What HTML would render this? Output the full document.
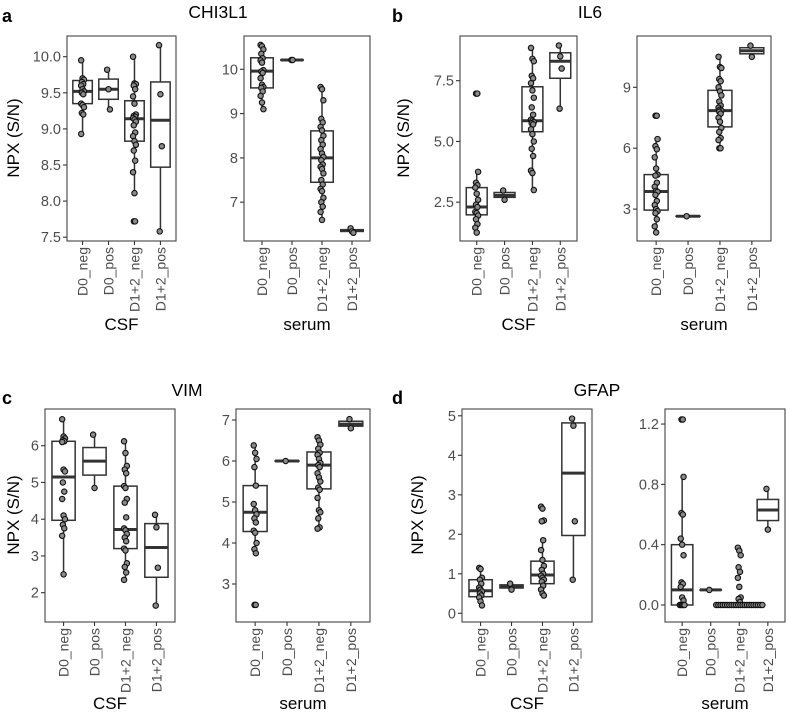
<!DOCTYPE html>
<html><head><meta charset="utf-8"><style>
body{margin:0;background:#fff;}
svg{display:block;font-family:"Liberation Sans",sans-serif;}
</style></head><body>
<svg id="fig" width="787" height="717" viewBox="0 0 787 717"></svg>
<script>
const categories=["D0_neg","D0_pos","D1+2_neg","D1+2_pos"];
// box stats per panel: [q1, median, q3, whiskerLow, whiskerHigh] per category
const aCsfBox=[[9.35,9.52,9.67,8.93,9.95],[9.41,9.55,9.69,9.27,9.82],[8.83,9.14,9.39,8.11,10.0],[8.47,9.12,9.65,7.58,10.16]];
const aCsfPts=[[9.95,9.7,9.68,9.65,9.62,9.6,9.55,9.52,9.5,9.48,9.35,9.33,9.3,9.22,9.2,8.93],[9.82,9.55,9.27],[10.0,9.63,9.62,9.6,9.55,9.45,9.35,9.2,9.18,9.17,9.15,9.13,9.1,9.05,8.95,8.9,8.83,8.78,8.7,8.56,8.4,8.11,7.72,7.72],[10.16,9.48,8.76,7.58]];
const aSerBox=[[9.58,9.96,10.26,9.11,10.55],[10.21,10.21,10.21,10.2,10.21],[7.45,8.0,8.61,6.6,9.6],[6.34,6.36,6.38,6.31,6.41]];
const aSerPts=[[10.55,10.52,10.45,10.35,10.25,10.2,10.15,9.98,9.95,9.92,9.8,9.65,9.6,9.58,9.5,9.4,9.25,9.1],[10.21,10.21],[9.6,9.55,9.3,8.88,8.8,8.7,8.62,8.5,8.4,8.3,8.2,8.1,8.02,7.95,7.85,7.8,7.75,7.65,7.5,7.4,7.3,7.25,7.1,7.0,6.9,6.78,6.6],[6.41,6.34,6.31]];
const bCsfBox=[[1.98,2.3,3.1,1.25,3.75],[2.7,2.78,2.9,2.6,2.98],[5.4,5.85,7.25,3.0,8.85],[7.6,8.3,8.65,6.35,8.95]];
const bCsfPts=[[6.97,6.97,3.75,3.3,3.2,3.1,2.85,2.6,2.4,2.3,2.1,2.05,1.95,1.8,1.6,1.45,1.25],[2.98,2.6],[8.85,8.4,8.3,7.7,7.6,7.4,7.1,6.8,6.4,6.1,5.9,5.85,5.8,5.75,5.7,5.5,5.3,5.0,4.7,4.4,3.8,3.7,3.0],[8.95,8.5,8.0,6.35]];
const bSerBox=[[2.95,3.87,4.7,1.8,6.45],[2.65,2.65,2.65,2.65,2.65],[7.05,7.85,8.85,6.0,10.5],[10.65,10.8,10.95,10.5,11.05]];
const bSerPts=[[7.6,7.6,6.45,6.1,5.95,5.55,5.0,4.7,4.65,4.3,4.1,3.9,3.85,3.7,3.4,3.2,3.0,2.9,2.8,2.5,2.15,1.85],[2.65],[10.5,10.0,9.95,9.4,9.3,9.0,8.8,8.6,8.3,8.1,8.0,7.9,7.85,7.8,7.7,7.5,7.3,7.0,6.8,6.5,6.4,6.0,6.0],[11.05,10.5]];
const cCsfBox=[[3.97,5.15,6.12,2.5,6.72],[5.2,5.58,5.95,4.85,6.3],[3.2,3.72,4.9,2.35,6.12],[2.42,3.23,3.88,1.65,4.12]];
const cCsfPts=[[6.72,6.25,6.2,6.15,6.12,6.1,5.35,5.3,5.0,4.75,4.55,4.1,4.0,3.85,3.75,3.55,2.5],[6.3,4.85],[6.12,5.8,5.45,5.35,5.25,4.9,4.85,4.55,4.45,4.05,3.75,3.7,3.6,3.5,3.4,3.2,3.15,2.8,2.7,2.55,2.35],[4.12,3.78,2.68,1.65]];
const cSerBox=[[4.28,4.75,5.4,3.75,6.38],[6.0,6.0,6.0,6.0,6.0],[5.32,5.9,6.22,4.35,6.58],[6.85,6.9,6.97,6.8,7.02]];
const cSerPts=[[6.38,6.2,6.05,5.85,5.4,4.95,4.8,4.7,4.6,4.5,4.3,4.25,4.0,3.85,3.75,2.49,2.49],[6.0],[6.58,6.5,6.4,6.3,6.2,6.15,6.05,5.95,5.9,5.85,5.7,5.6,5.5,5.35,5.3,5.1,4.8,4.75,4.6,4.38,4.35],[7.02,6.8]];
const dCsfBox=[[0.42,0.57,0.85,0.2,1.15],[0.64,0.68,0.72,0.6,0.75],[0.75,0.97,1.32,0.45,1.85],[1.97,3.55,4.82,0.85,4.93]];
const dCsfPts=[[1.15,1.12,0.9,0.85,0.75,0.65,0.6,0.55,0.5,0.45,0.4,0.3,0.2],[0.75,0.6],[2.7,2.65,2.35,2.33,1.85,1.6,1.35,1.2,1.1,1.0,0.95,0.9,0.85,0.8,0.7,0.6,0.5,0.45],[4.93,4.75,2.33,0.85]];
const dSerBox=[[0.0,0.1,0.4,0.0,0.85],[0.1,0.1,0.1,0.1,0.1],[0,0,0,0,0],[0.56,0.63,0.7,0.5,0.77]];
const dSerPts=[[1.23,1.23,0.85,0.61,0.6,0.44,0.4,0.33,0.15,0.14,0.12,0.05,0.03,0,0,0,0,0],[0.1],[0.38,0.36,0.33,0.25,0.22,0.18,0.12,0.05,0.04,0.02,0,0,0,0,0,0,0,0,0,0,0,0,0,0,0,0,0,0,0,0,0,0],[0.77,0.5]];
const aCsfTicks=[7.5,8.0,8.5,9.0,9.5,10.0], aSerTicks=[7,8,9,10];
const bCsfTicks=[2.5,5.0,7.5], bSerTicks=[3,6,9];
const cCsfTicks=[2,3,4,5,6], cSerTicks=[3,4,5,6,7];
const dCsfTicks=[0,1,2,3,4,5], dSerTicks=[0.0,0.4,0.8,1.2];

const NS="http://www.w3.org/2000/svg", svg=document.getElementById('fig');
function mk(tag,attrs,parent,txt){const e=document.createElementNS(NS,tag);for(const k in attrs)e.setAttribute(k,attrs[k]);if(txt!==undefined)e.textContent=txt;(parent||svg).appendChild(e);return e;}

function panel(name,L,R,T,B,vTop,vBot,box,pts,ticks,dec,facet){
  const g=mk('g',{},svg);
  
  
  const y=v=>T+(vTop-v)/(vTop-vBot)*(B-T);
  const unit=(R-L)/4.2;
  const x=i=>L+unit*(0.6+i);
  mk('rect',{x:L,y:T,width:R-L,height:B-T,fill:'#fff',stroke:'#444',"stroke-width":1.1},g);
  ticks.forEach(t=>{
    const ty=y(t);
    mk('line',{x1:L-4,x2:L,y1:ty,y2:ty,stroke:'#333',"stroke-width":1.1},g);
    const lb=mk('text',{x:L-6,y:ty+5,"text-anchor":"end","font-size":14.5,fill:'#4d4d4d'},g,t.toFixed(dec));
    
    
  });
  categories.forEach((c,i)=>{
    const cx=x(i);
    mk('line',{x1:cx,x2:cx,y1:B,y2:B+4,stroke:'#333',"stroke-width":1.1},g);
    const lb=mk('text',{transform:`translate(${cx+5},${B+6}) rotate(-90)`,"text-anchor":"end","font-size":14,fill:'#4d4d4d'},g,c);
    
    
    const s=box[i], hw=unit*0.375;
    const bg=mk('g',{},g);
    
    
    mk('line',{x1:cx,x2:cx,y1:y(s[4]),y2:y(s[2]),stroke:'#333',"stroke-width":1.5},bg);
    mk('line',{x1:cx,x2:cx,y1:y(s[0]),y2:y(s[3]),stroke:'#333',"stroke-width":1.5},bg);
    mk('rect',{x:cx-hw,y:y(s[2]),width:2*hw,height:Math.max(0.1,y(s[0])-y(s[2])),fill:'#fff',stroke:'#333',"stroke-width":1.5},bg);
    mk('line',{x1:cx-hw,x2:cx+hw,y1:y(s[1]),y2:y(s[1]),stroke:'#333',"stroke-width":3},bg);
    const counts={}, seen={};
    pts[i].forEach(v=>{counts[v]=(counts[v]||0)+1;});
    pts[i].forEach((v,j)=>{
      const n=counts[v], k=(seen[v]=(seen[v]||0)+1)-1;
      let dx = n>1 ? (k-(n-1)/2)*(n>6?2.2:1.2) : ((j*7)%5-2)*0.7;
      const p=mk('circle',{cx:cx+dx,cy:y(v),r:2.7,fill:'#8a8a8a',stroke:'#111',"stroke-width":1.1},bg);
      
      
    });
  });
  const ft=mk('text',{x:(L+R)/2,y:facet.y,"text-anchor":"middle","font-size":17,fill:'#000'},g,facet.t);
  
  
}
function txt(name,x,y,s,size,extra){const t=mk('text',Object.assign({x:x,y:y,"font-size":size,fill:'#000'},extra||{}),svg,s);
  
  }

panel('panel-a-csf',67,176,36,241,10.0+(56.7-36)/72.2,10.0-(241-56.7)/72.2,aCsfBox,aCsfPts,aCsfTicks,1,{t:'CSF',y:330});
panel('panel-a-serum',244,370,36,241,10+(69.3-36)/44.3,10-(241-69.3)/44.3,aSerBox,aSerPts,aSerTicks,0,{t:'serum',y:330});
panel('panel-b-csf',460,577,36,241,7.5+(80.7-36)/24.3,7.5-(241-80.7)/24.3,bCsfBox,bCsfPts,bCsfTicks,1,{t:'CSF',y:330});
panel('panel-b-serum',637,771,36,241,9+(87.3-36)/20.3,9-(241-87.3)/20.3,bSerBox,bSerPts,bSerTicks,0,{t:'serum',y:330});
panel('panel-c-csf',45,175,409,622,6+(445.7-409)/36.75,6-(622-445.7)/36.75,cCsfBox,cCsfPts,cCsfTicks,0,{t:'CSF',y:709});
panel('panel-c-serum',236,370,409,622,7+(420-409)/41,7-(622-420)/41,cSerBox,cSerPts,cSerTicks,0,{t:'serum',y:709});
panel('panel-d-csf',462,592,409,622,(613.3-409)/39.5,(613.3-622)/39.5,dCsfBox,dCsfPts,dCsfTicks,0,{t:'CSF',y:709});
panel('panel-d-serum',665,785,409,622,(605-409)/150.8,(605-622)/150.8,dSerBox,dSerPts,dSerTicks,1,{t:'serum',y:709});

txt('title-chi3l1',218,18,'CHI3L1',17.5,{"text-anchor":"middle"});
txt('title-il6',590,18,'IL6',17.5,{"text-anchor":"middle"});
txt('title-vim',187,396,'VIM',17.5,{"text-anchor":"middle"});
txt('title-gfap',597,396,'GFAP',17.5,{"text-anchor":"middle"});
txt('panel-letter-a',2,22,'a',18,{"font-weight":"bold"});
txt('panel-letter-b',392,22,'b',18,{"font-weight":"bold"});
txt('panel-letter-c',2,404,'c',18,{"font-weight":"bold"});
txt('panel-letter-d',392,404,'d',18,{"font-weight":"bold"});
txt('y-axis-title-a',0,0,'NPX (S/N)',17,{"text-anchor":"middle",transform:'translate(19,138) rotate(-90)'});
txt('y-axis-title-b',0,0,'NPX (S/N)',17,{"text-anchor":"middle",transform:'translate(409,138) rotate(-90)'});
txt('y-axis-title-c',0,0,'NPX (S/N)',17,{"text-anchor":"middle",transform:'translate(19,515) rotate(-90)'});
txt('y-axis-title-d',0,0,'NPX (S/N)',17,{"text-anchor":"middle",transform:'translate(423,515) rotate(-90)'});
</script>
</body></html>
